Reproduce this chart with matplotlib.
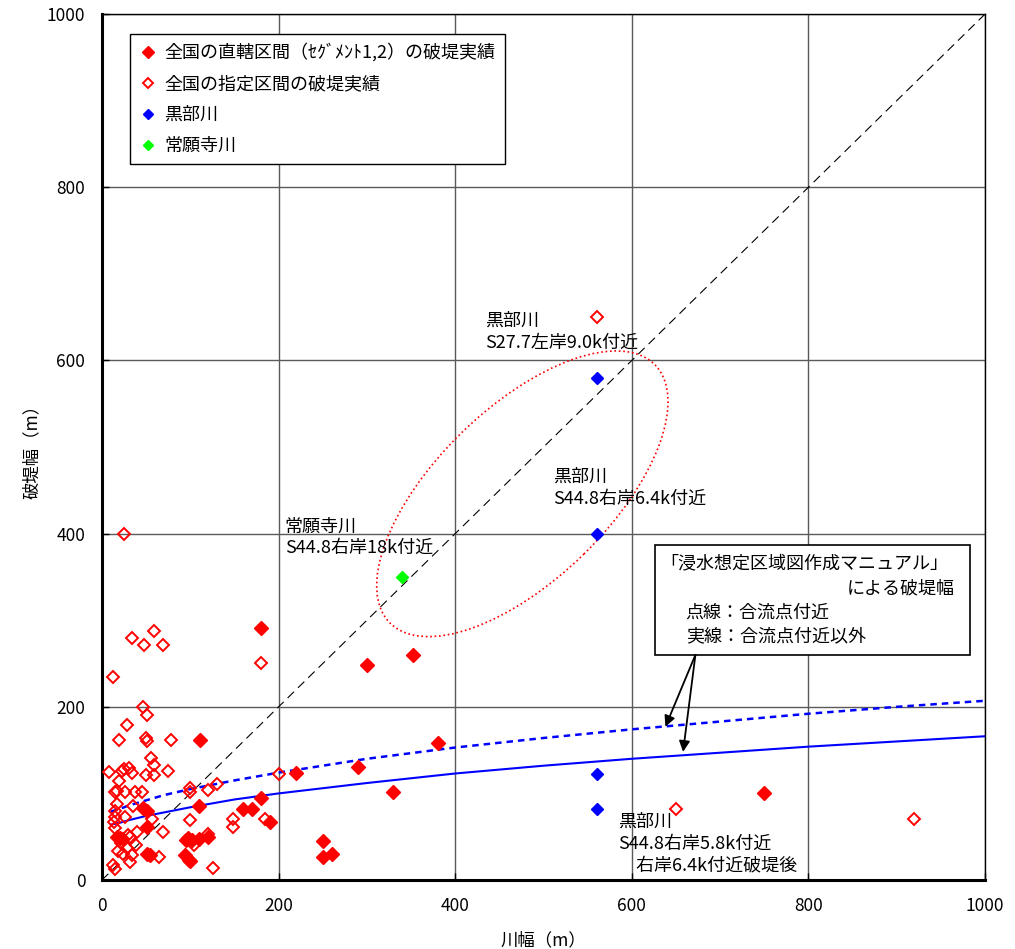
import matplotlib
matplotlib.use("Agg")
import matplotlib.pyplot as plt
from matplotlib.patches import Ellipse, Rectangle

plt.rcParams['font.family'] = ['Noto Sans CJK JP', 'DejaVu Sans']

# 全国の直轄区間（セグメント1,2）の破堤実績 : 川幅, 破堤幅
direct_x = [180, 300, 352, 220, 290, 380, 330, 250, 250, 260, 180, 160, 170, 190,
            111, 110, 750, 46, 51, 51, 17, 20, 51, 54, 97, 102, 95, 110, 120, 94, 98, 100]
direct_y = [291, 248, 260, 124, 131, 158, 102, 45, 27, 30, 95, 82, 82, 67,
            162, 85, 101, 83, 80, 61, 50, 49, 30, 29, 49, 46, 46, 47, 50, 29, 23, 22]

# 全国の指定区間の破堤実績
desig_x = [25, 560, 650, 920, 180,
           34, 59, 48, 69, 12, 46, 51, 28, 19, 50, 51, 78,
           55, 59, 75, 8, 23, 25, 31, 34, 50, 59, 19,
           15, 17, 26, 37, 45, 100, 100, 120, 130,
           17, 35, 15, 15, 26, 57, 14, 15, 100, 40, 69,
           30, 24, 32, 22, 39, 28, 18, 24, 34, 32, 12, 15, 65,
           104, 120, 148, 148, 126, 200, 185]
desig_y = [400, 650, 82, 70, 251,
           280, 287, 271, 271, 234, 200, 190, 179, 162, 164, 161, 162,
           141, 133, 126, 125, 126, 128, 129, 123, 121, 121, 114,
           102, 103, 102, 102, 102, 106, 102, 104, 111,
           88, 85, 80, 73, 73, 70, 67, 60, 69, 56, 55,
           52, 47, 50, 43, 40, 37, 33, 30, 29, 21, 17, 13, 27,
           40, 53, 70, 61, 14, 122, 70]

# 黒部川
kurobe_x = [560, 560, 560, 560]
kurobe_y = [580, 400, 122, 82]

# 常願寺川
joganji_x = [340]
joganji_y = [350]

# 浸水想定区域図作成マニュアルによる破堤幅
manual_x = [10, 20, 30, 50, 70, 100, 150, 200, 300, 400, 500, 600, 700, 800, 900, 1000]
manual_conf = [79, 82, 86, 92, 98, 105, 115, 124, 140, 153, 164, 174, 183, 192, 200, 207]
manual_other = [64, 66, 69, 74, 78, 84, 93, 100, 112, 123, 132, 140, 147, 154, 160, 166]

ticks = [0, 200, 400, 600, 800, 1000]

fig = plt.figure(figsize=(10.15, 9.49), dpi=100)
ax = fig.add_axes([0.1005, 0.0727, 0.870, 0.9125])

ax.set_xlim(0, 1000)
ax.set_ylim(0, 1000)
ax.set_xticks(ticks)
ax.set_yticks(ticks)
ax.grid(True, color='#5a5a5a', linewidth=1.0)
ax.set_axisbelow(True)
ax.tick_params(direction='in', length=5, width=1, pad=12, labelsize=12.5,
               top=False, right=False)

for side in ['left', 'bottom']:
    ax.spines[side].set_linewidth(2.2)
for side in ['top', 'right']:
    ax.spines[side].set_linewidth(1.0)

# 1:1 line
ax.plot([0, 1000], [0, 1000], color='black', linestyle=(0, (8, 5)), linewidth=0.8, zorder=2)

# manual curves
ax.plot(manual_x, manual_conf, color='#0000FF', linestyle=(0, (2.6, 2.0)), linewidth=1.8, zorder=3)
ax.plot(manual_x, manual_other, color='#0000FF', linewidth=1.5, zorder=3)

# scatter
ax.plot(direct_x, direct_y, linestyle='none', marker='D', ms=6.8, color='#FF0000',
        mec='#FF0000', zorder=4, label='全国の直轄区間（ｾｸﾞﾒﾝﾄ1,2）の破堤実績')
ax.plot(desig_x, desig_y, linestyle='none', marker='D', ms=6.0, mfc='none',
        mec='#FF0000', mew=1.4, zorder=4, label='全国の指定区間の破堤実績')
ax.plot(kurobe_x, kurobe_y, linestyle='none', marker='D', ms=6.2, color='#0000FF',
        zorder=4, label='黒部川')
ax.plot(joganji_x, joganji_y, linestyle='none', marker='D', ms=6.2, color='#00FF00',
        zorder=4, label='常願寺川')

leg = ax.legend(loc='upper left', bbox_to_anchor=(0.032, 0.977), fontsize=13,
                frameon=True, fancybox=False, edgecolor='black', framealpha=1,
                labelspacing=0.72, handlelength=1.0, handletextpad=0.4,
                borderpad=0.5, borderaxespad=0, markerscale=0.9)
leg.get_frame().set_linewidth(1.0)
leg.set_zorder(10)

# ellipse around Kurobe / Joganji
ax.add_patch(Ellipse((476, 446), width=423, height=197, angle=45, fill=False,
                     edgecolor='#FF0000', linestyle=':', linewidth=1.2, zorder=3))

# annotations
ax.text(434, 633, '黒部川\nS27.7左岸9.0k付近', fontsize=13, ha='left', va='center', linespacing=1.25)
ax.text(511, 453, '黒部川\nS44.8右岸6.4k付近', fontsize=13, ha='left', va='center', linespacing=1.25)
ax.text(207, 396, '常願寺川\nS44.8右岸18k付近', fontsize=13, ha='left', va='center', linespacing=1.25)
ax.text(584, 42, '黒部川\nS44.8右岸5.8k付近\n\u3000右岸6.4k付近破堤後', fontsize=13,
        ha='left', va='center', linespacing=1.25)

# manual note box
ax.add_patch(Rectangle((626, 260), 357, 127, facecolor='white', edgecolor='black',
                       linewidth=1.2, zorder=6))
ax.text(632, 366, '「浸水想定区域図作成マニュアル」', fontsize=13, ha='left', va='center', zorder=7)
ax.text(966, 337, 'による破堤幅', fontsize=13, ha='right', va='center', zorder=7)
ax.text(661, 309, '点線：合流点付近', fontsize=13, ha='left', va='center', zorder=7)
ax.text(661, 281, '実線：合流点付近以外', fontsize=13, ha='left', va='center', zorder=7)

arrow = dict(arrowstyle='-|>', color='black', lw=1.3, mutation_scale=16, shrinkA=0, shrinkB=0)
ax.annotate('', xy=(638, 177), xytext=(672, 260), arrowprops=arrow, zorder=7)
ax.annotate('', xy=(658, 148), xytext=(672, 260), arrowprops=arrow, zorder=7)

ax.set_xlabel('川幅（m）', fontsize=12.5, labelpad=12)
ax.set_ylabel('破堤幅（m）', fontsize=12.5, labelpad=4)

fig.savefig('out.png', dpi=100)
